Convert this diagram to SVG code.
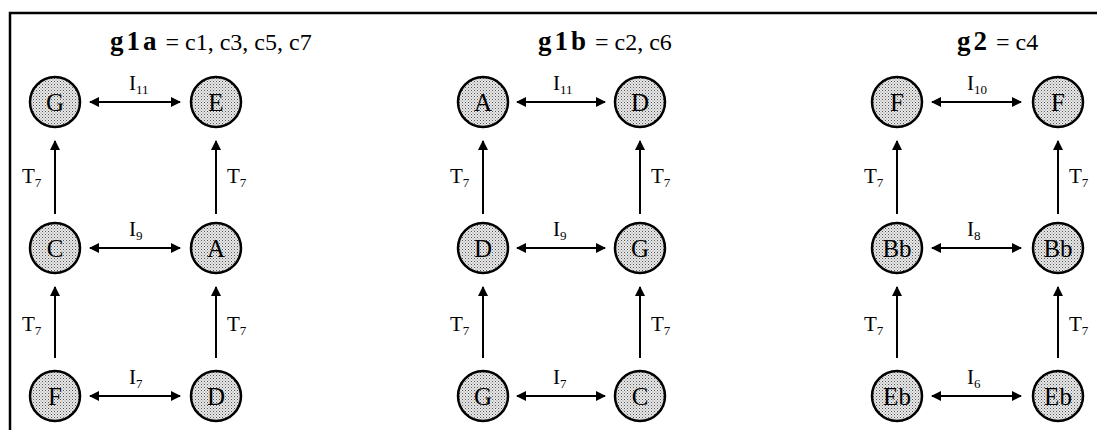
<svg xmlns="http://www.w3.org/2000/svg" width="1097" height="430" viewBox="0 0 1097 430">
<style>
.node circle{fill:url(#stip);stroke:#000;stroke-width:2.5}
.node text{font-family:"Liberation Serif",serif;font-size:25px;text-anchor:middle;fill:#000}
.edge{stroke:#000;stroke-width:2;fill:none}
.lbl{font-family:"Liberation Serif",serif;font-size:21px;fill:#000}
.sub{font-size:13px}
.title{font-family:"Liberation Serif",serif;font-size:24px;fill:#000}
.tb{font-weight:bold;font-size:27px;letter-spacing:3px}
</style>
<defs>
<pattern id="stip" width="3" height="3" patternUnits="userSpaceOnUse">
<rect width="3" height="3" fill="#e8e8e8"/>
<rect x="0" y="0" width="1" height="1" fill="#555"/>
<rect x="1.5" y="1.5" width="1" height="1" fill="#888"/>
</pattern>
<marker id="ah" viewBox="0 0 10 10" refX="9" refY="5" markerWidth="5.5" markerHeight="5" orient="auto-start-reverse" markerUnits="strokeWidth">
<path d="M0,0 L10,5 L0,10 z" fill="#000"/>
</marker>
</defs>
<rect width="1097" height="430" fill="#fff"/>
<path d="M10,430 V13 H1097" fill="none" stroke="#000" stroke-width="2.5"/>

<g id="titles">
<text class="title" x="110" y="50"><tspan class="tb">g1a</tspan> = c1, c3, c5, c7</text>
<text class="title" x="538" y="50"><tspan class="tb">g1b</tspan> = c2, c6</text>
<text class="title" x="957" y="50"><tspan class="tb">g2</tspan> = c4</text>
</g>

<g id="connectors">
<!-- panel 1 -->
<line class="edge" x1="90" y1="102" x2="180" y2="102" marker-start="url(#ah)" marker-end="url(#ah)"/>
<line class="edge" x1="90" y1="248" x2="180" y2="248" marker-start="url(#ah)" marker-end="url(#ah)"/>
<line class="edge" x1="90" y1="396" x2="180" y2="396" marker-start="url(#ah)" marker-end="url(#ah)"/>
<line class="edge" x1="55" y1="214" x2="55" y2="141" marker-end="url(#ah)"/>
<line class="edge" x1="216" y1="214" x2="216" y2="141" marker-end="url(#ah)"/>
<line class="edge" x1="55" y1="358" x2="55" y2="287" marker-end="url(#ah)"/>
<line class="edge" x1="216" y1="358" x2="216" y2="287" marker-end="url(#ah)"/>
<!-- panel 2 -->
<line class="edge" x1="517" y1="102" x2="605" y2="102" marker-start="url(#ah)" marker-end="url(#ah)"/>
<line class="edge" x1="517" y1="248" x2="605" y2="248" marker-start="url(#ah)" marker-end="url(#ah)"/>
<line class="edge" x1="517" y1="396" x2="605" y2="396" marker-start="url(#ah)" marker-end="url(#ah)"/>
<line class="edge" x1="483" y1="214" x2="483" y2="141" marker-end="url(#ah)"/>
<line class="edge" x1="640" y1="214" x2="640" y2="141" marker-end="url(#ah)"/>
<line class="edge" x1="483" y1="358" x2="483" y2="287" marker-end="url(#ah)"/>
<line class="edge" x1="640" y1="358" x2="640" y2="287" marker-end="url(#ah)"/>
<!-- panel 3 -->
<line class="edge" x1="932" y1="102" x2="1021" y2="102" marker-start="url(#ah)" marker-end="url(#ah)"/>
<line class="edge" x1="932" y1="248" x2="1021" y2="248" marker-start="url(#ah)" marker-end="url(#ah)"/>
<line class="edge" x1="932" y1="396" x2="1021" y2="396" marker-start="url(#ah)" marker-end="url(#ah)"/>
<line class="edge" x1="897" y1="214" x2="897" y2="141" marker-end="url(#ah)"/>
<line class="edge" x1="1058" y1="214" x2="1058" y2="141" marker-end="url(#ah)"/>
<line class="edge" x1="897" y1="358" x2="897" y2="287" marker-end="url(#ah)"/>
<line class="edge" x1="1058" y1="358" x2="1058" y2="287" marker-end="url(#ah)"/>

<g id="edge-labels">
<text class="lbl" x="129" y="90">I<tspan class="sub" dy="4">11</tspan></text>
<text class="lbl" x="129" y="236">I<tspan class="sub" dy="4">9</tspan></text>
<text class="lbl" x="129" y="384">I<tspan class="sub" dy="4">7</tspan></text>
<text class="lbl" x="22" y="183">T<tspan class="sub" dy="4">7</tspan></text>
<text class="lbl" x="227" y="183">T<tspan class="sub" dy="4">7</tspan></text>
<text class="lbl" x="22" y="331">T<tspan class="sub" dy="4">7</tspan></text>
<text class="lbl" x="227" y="331">T<tspan class="sub" dy="4">7</tspan></text>

<text class="lbl" x="553" y="90">I<tspan class="sub" dy="4">11</tspan></text>
<text class="lbl" x="553" y="236">I<tspan class="sub" dy="4">9</tspan></text>
<text class="lbl" x="553" y="384">I<tspan class="sub" dy="4">7</tspan></text>
<text class="lbl" x="450" y="183">T<tspan class="sub" dy="4">7</tspan></text>
<text class="lbl" x="651" y="183">T<tspan class="sub" dy="4">7</tspan></text>
<text class="lbl" x="450" y="331">T<tspan class="sub" dy="4">7</tspan></text>
<text class="lbl" x="651" y="331">T<tspan class="sub" dy="4">7</tspan></text>

<text class="lbl" x="967" y="90">I<tspan class="sub" dy="4">10</tspan></text>
<text class="lbl" x="967" y="236">I<tspan class="sub" dy="4">8</tspan></text>
<text class="lbl" x="967" y="384">I<tspan class="sub" dy="4">6</tspan></text>
<text class="lbl" x="864" y="183">T<tspan class="sub" dy="4">7</tspan></text>
<text class="lbl" x="1069" y="183">T<tspan class="sub" dy="4">7</tspan></text>
<text class="lbl" x="864" y="331">T<tspan class="sub" dy="4">7</tspan></text>
<text class="lbl" x="1069" y="331">T<tspan class="sub" dy="4">7</tspan></text>
</g>
</g>

<g id="n1G" class="node"><circle cx="55" cy="102" r="25"/><text x="55" y="111">G</text></g>
<g id="n1E" class="node"><circle cx="216" cy="102" r="25"/><text x="216" y="111">E</text></g>
<g id="n1C" class="node"><circle cx="55" cy="248" r="25"/><text x="55" y="257">C</text></g>
<g id="n1A" class="node"><circle cx="216" cy="248" r="25"/><text x="216" y="257">A</text></g>
<g id="n1F" class="node"><circle cx="55" cy="396" r="25"/><text x="55" y="405">F</text></g>
<g id="n1D" class="node"><circle cx="216" cy="396" r="25"/><text x="216" y="405">D</text></g>

<g id="n2A" class="node"><circle cx="483" cy="102" r="25"/><text x="483" y="111">A</text></g>
<g id="n2D" class="node"><circle cx="640" cy="102" r="25"/><text x="640" y="111">D</text></g>
<g id="n2D2" class="node"><circle cx="483" cy="248" r="25"/><text x="483" y="257">D</text></g>
<g id="n2G" class="node"><circle cx="640" cy="248" r="25"/><text x="640" y="257">G</text></g>
<g id="n2G2" class="node"><circle cx="483" cy="396" r="25"/><text x="483" y="405">G</text></g>
<g id="n2C" class="node"><circle cx="640" cy="396" r="25"/><text x="640" y="405">C</text></g>

<g id="n3F" class="node"><circle cx="897" cy="102" r="25"/><text x="897" y="111">F</text></g>
<g id="n3F2" class="node"><circle cx="1058" cy="102" r="25"/><text x="1058" y="111">F</text></g>
<g id="n3Bb" class="node"><circle cx="897" cy="248" r="25"/><text x="897" y="257">Bb</text></g>
<g id="n3Bb2" class="node"><circle cx="1058" cy="248" r="25"/><text x="1058" y="257">Bb</text></g>
<g id="n3Eb" class="node"><circle cx="897" cy="396" r="25"/><text x="897" y="405">Eb</text></g>
<g id="n3Eb2" class="node"><circle cx="1058" cy="396" r="25"/><text x="1058" y="405">Eb</text></g>
</svg>
